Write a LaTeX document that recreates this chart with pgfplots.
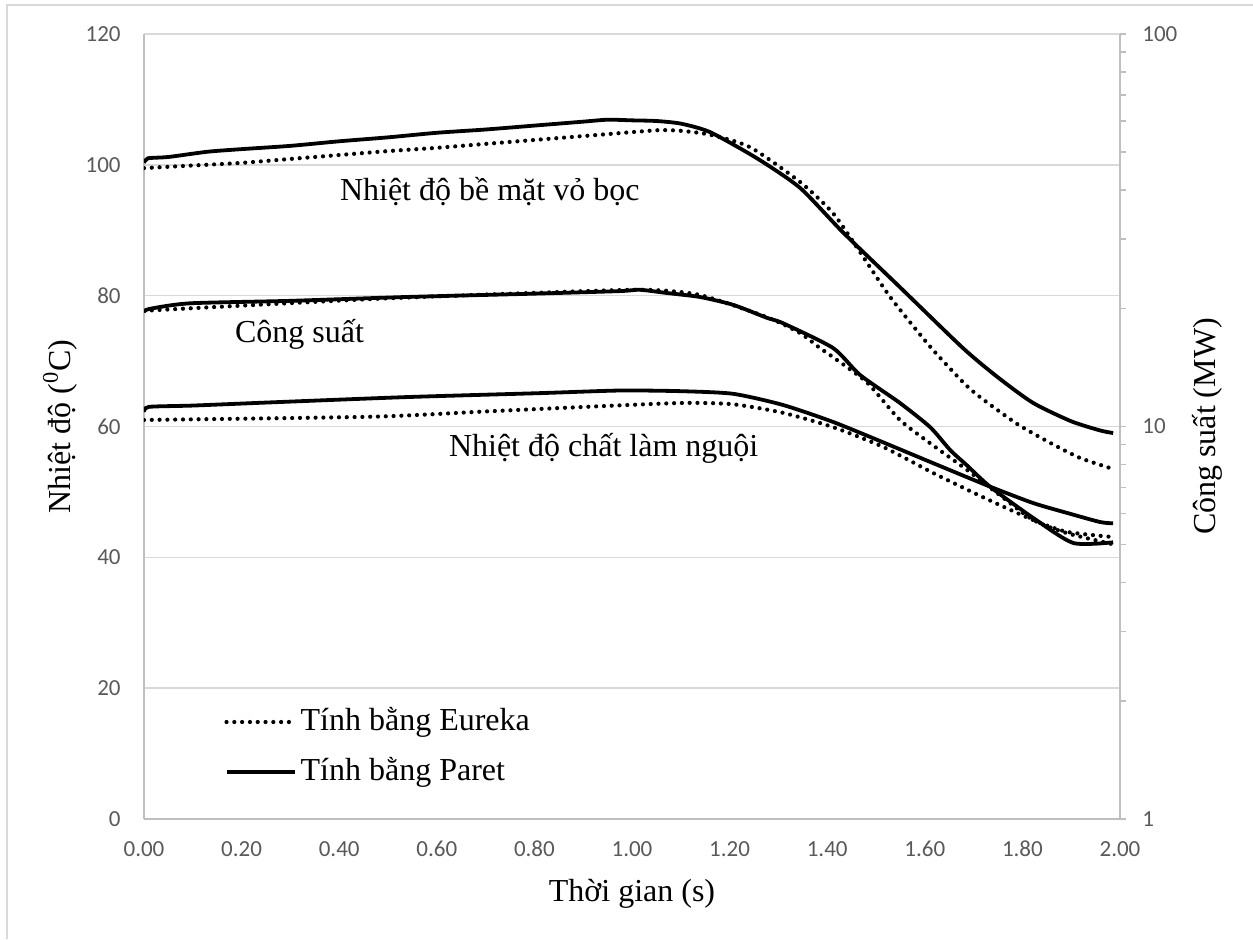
\documentclass[border=0pt]{standalone}
\usepackage{pgfplots}
\pgfplotsset{compat=1.18}
\usepackage{pgfplotstable}
\usepackage{fontspec}
\setmainfont{Liberation Serif}
\newfontfamily\calibri{Carlito}
\definecolor{gridgray}{RGB}{217,217,217}
\definecolor{axisgray}{RGB}{191,191,191}
\definecolor{labgray}{RGB}{89,89,89}

% Nhiet do be mat vo boc - Paret
\pgfplotstableread{
t T
0.000 100.3
0.008 101.0
0.050 101.2
0.130 102.0
0.200 102.4
0.300 102.9
0.400 103.6
0.500 104.2
0.600 104.9
0.700 105.4
0.800 106.0
0.900 106.6
0.950 106.9
1.000 106.8
1.050 106.7
1.100 106.3
1.160 105.0
1.256 101.0
1.344 96.5
1.432 89.7
1.549 81.3
1.678 72.0
1.750 67.5
1.822 63.6
1.900 60.8
1.959 59.4
1.986 59.0
}\surfP

% Nhiet do be mat vo boc - Eureka
\pgfplotstableread{
t T
0.000 99.5
0.100 99.9
0.200 100.3
0.300 100.9
0.400 101.5
0.500 102.1
0.600 102.6
0.700 103.2
0.800 103.8
0.934 104.6
1.000 105.0
1.057 105.3
1.100 105.2
1.160 104.6
1.242 102.7
1.344 97.4
1.412 92.6
1.467 86.7
1.529 79.8
1.611 72.2
1.678 66.8
1.713 64.5
1.789 60.4
1.857 57.5
1.918 55.2
1.986 53.5
}\surfE

% Nhiet do chat lam nguoi - Paret
\pgfplotstableread{
t T
0.000 62.2
0.010 63.0
0.100 63.2
0.264 63.7
0.539 64.5
0.811 65.1
0.975 65.5
1.100 65.4
1.207 65.0
1.309 63.3
1.412 60.7
1.514 57.6
1.617 54.4
1.734 50.8
1.822 48.3
1.891 46.8
1.959 45.4
1.986 45.2
}\coolP

% Nhiet do chat lam nguoi - Eureka
\pgfplotstableread{
t T
0.000 61.0
0.469 61.5
0.700 62.3
0.934 63.1
1.105 63.6
1.207 63.4
1.309 62.1
1.412 59.9
1.514 56.9
1.617 52.9
1.719 49.2
1.822 45.7
1.891 43.9
1.986 43.1
}\coolE

% Cong suat (MW) - Paret
\pgfplotstableread{
t P
0.000 19.6
0.012 19.95
0.094 20.6
0.300 20.9
0.539 21.38
0.800 21.8
0.975 22.13
1.016 22.3
1.072 21.88
1.139 21.38
1.207 20.42
1.277 18.91
1.309 18.34
1.412 15.85
1.467 13.54
1.549 11.48
1.611 9.96
1.652 8.71
1.686 7.97
1.734 7.02
1.822 5.85
1.904 5.05
1.986 5.07
}\powP

% Cong suat (MW) - Eureka
\pgfplotstableread{
t P
0.000 19.72
0.469 21.13
0.800 21.9
1.023 22.30
1.139 21.63
1.277 18.98
1.344 17.31
1.385 15.85
1.412 15.02
1.482 12.93
1.549 10.39
1.617 8.95
1.686 7.76
1.754 6.68
1.822 5.78
1.891 5.35
1.986 5.01
}\powE

\tikzset{
  solidcurve/.style={black, line width=1.9pt, line join=round},
  dotcurve/.style={black, line width=2.1pt, line cap=round, dash pattern=on 0pt off 3.9pt},
}
\newcommand{\bigfont}{\fontsize{16}{19}\selectfont}
\newcommand{\tickfont}{\calibri\fontsize{11.5}{13}\selectfont}

\begin{document}
\begin{tikzpicture}
\useasboundingbox (0,0) rectangle (626.5pt,469.5pt);
\draw[gridgray, line width=0.6pt] (3.5pt,0pt) -- (3.5pt,467pt) -- (626.5pt,467pt);

\begin{axis}[
  at={(72pt,60pt)}, anchor=south west,
  width=488pt, height=392.5pt, scale only axis,
  xmin=0, xmax=2, ymin=0, ymax=120,
  axis x line*=bottom, axis y line*=left,
  axis line style={axisgray, line width=0.75pt, -},
  xtick={0,0.2,0.4,0.6,0.8,1,1.2,1.4,1.6,1.8,2},
  ytick={0,20,40,60,80,100,120},
  ymajorgrids, grid style={gridgray, line width=0.75pt},
  major tick length=0pt,
  /pgf/number format/assume math mode=true,
  tick label style={font=\tickfont, text=labgray, inner sep=0pt},
  xticklabel style={/pgf/number format/.cd, fixed, fixed zerofill, precision=2, /tikz/.cd, anchor=north, yshift=-11pt, text height=7.5pt, text depth=0pt},
  yticklabel style={anchor=east, xshift=-11.5pt},
  xlabel={Thời gian (s)},
  xlabel style={font=\bigfont, at={(axis description cs:0.5,-0.0955)}, anchor=center},
  ylabel={Nhiệt độ (\textsuperscript{0}C)},
  ylabel style={font=\bigfont, at={(axis description cs:-0.086,0.5)}, anchor=center, rotate=0},
]
\addplot[dotcurve, smooth, tension=0.4] table[x=t, y=T] {\surfE};
\addplot[solidcurve, smooth, tension=0.4] table[x=t, y=T] {\surfP};
\addplot[dotcurve, smooth, tension=0.4] table[x=t, y=T] {\coolE};
\addplot[solidcurve, smooth, tension=0.4] table[x=t, y=T] {\coolP};
\node[font=\bigfont, anchor=base west] at (rel axis cs:0.1936,0.7885) {Nhiệt độ bề mặt vỏ bọc};
\node[font=\bigfont, anchor=base west] at (rel axis cs:0.0861,0.6076) {Công suất};
\node[font=\bigfont, anchor=base west] at (rel axis cs:0.3053,0.4624) {Nhiệt độ chất làm nguội};
\end{axis}

\begin{axis}[
  at={(72pt,60pt)}, anchor=south west,
  width=488pt, height=392.5pt, scale only axis,
  xmin=0, xmax=2, ymode=log, ymin=1, ymax=100,
  axis x line=none, axis y line*=right,
  axis line style={axisgray, line width=0.75pt, -},
  ytick={1,10,100}, yticklabels={1,10,100},
  minor ytick={2,3,4,5,6,7,8,9,20,30,40,50,60,70,80,90},
  tick align=outside, major tick length=3pt, minor tick length=3pt,
  tick style={axisgray, line width=0.75pt},
  yticklabel style={font=\tickfont, text=labgray, inner sep=0pt, anchor=west, xshift=8pt},
  ylabel={Công suất (MW)},
  ylabel style={font=\bigfont, at={(axis description cs:1.0891,0.5)}, anchor=center},
  legend style={at={(rel axis cs:0.082,0.0917)}, anchor=west, draw=none, fill=none,
    inner sep=0pt, row sep=7pt, column sep=0pt, font=\bigfont,
    nodes={inner sep=2pt, text height=11pt, text depth=3pt}},
  legend cell align=left,
  legend image code/.code={\draw[#1] (0pt,0pt) -- (34pt,0pt);},
]
\addplot[dotcurve, smooth, tension=0.4, forget plot] table[x=t, y=P] {\powE};
\addplot[solidcurve, smooth, tension=0.4, forget plot] table[x=t, y=P] {\powP};
\addlegendimage{dotcurve}
\addlegendentry{Tính bằng Eureka}
\addlegendimage{solidcurve}
\addlegendentry{Tính bằng Paret}
\end{axis}
\end{tikzpicture}
\end{document}
